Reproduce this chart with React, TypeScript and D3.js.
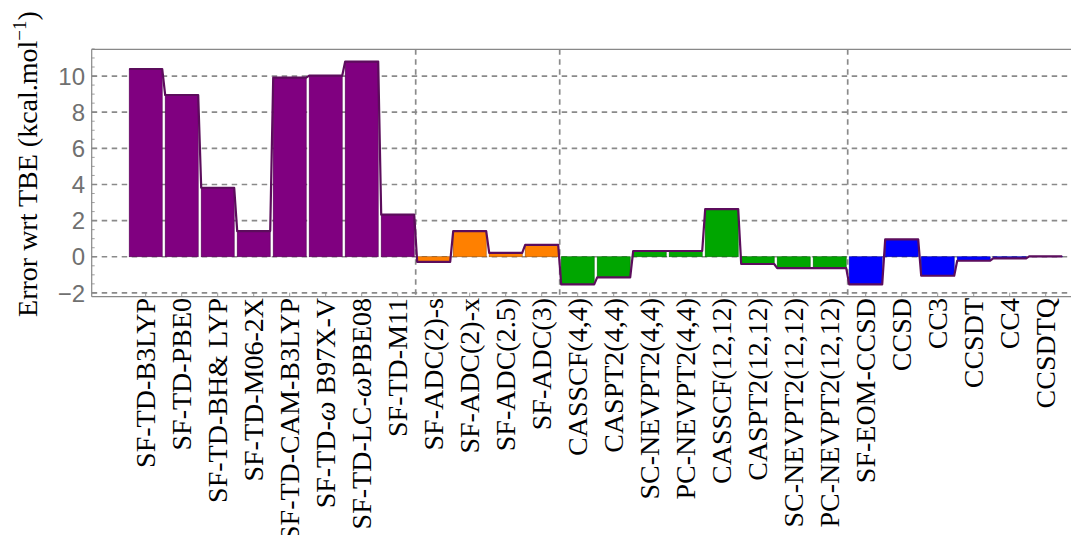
import React from "react";
import * as d3 from "d3";

const categories = [
  "SF-TD-B3LYP", "SF-TD-PBE0", "SF-TD-BH& LYP", "SF-TD-M06-2X", "SF-TD-CAM-B3LYP",
  "SF-TD-\u03c9 B97X-V", "SF-TD-LC-\u03c9PBE08", "SF-TD-M11",
  "SF-ADC(2)-s", "SF-ADC(2)-x", "SF-ADC(2.5)", "SF-ADC(3)",
  "CASSCF(4,4)", "CASPT2(4,4)", "SC-NEVPT2(4,4)", "PC-NEVPT2(4,4)",
  "CASSCF(12,12)", "CASPT2(12,12)", "SC-NEVPT2(12,12)", "PC-NEVPT2(12,12)",
  "SF-EOM-CCSD", "CCSD", "CC3", "CCSDT", "CC4", "CCSDTQ",
];
const values = [
  10.39, 8.95, 3.82, 1.42, 9.91, 10.02, 10.8, 2.33,
  -0.28, 1.42, 0.22, 0.66,
  -1.53, -1.14, 0.32, 0.32, 2.64, -0.4, -0.63, -0.63,
  -1.53, 0.96, -1.05, -0.22, -0.09, 0.02,
];
const groups = [
  "TD", "TD", "TD", "TD", "TD", "TD", "TD", "TD",
  "ADC", "ADC", "ADC", "ADC",
  "CAS", "CAS", "CAS", "CAS", "CAS", "CAS", "CAS", "CAS",
  "CC", "CC", "CC", "CC", "CC", "CC",
];
const groupNames = ["TD", "ADC", "CAS", "CC"];
const groupColors = ["#800080", "#ff8000", "#00a600", "#0000ff"];
const yTicks = [-2, 0, 2, 4, 6, 8, 10];
const yLabel = "Error wrt TBE (kcal.mol";

const W = 1071;
const H = 535;
const left = 91.7;
const top = 49.3;
const bottom = 296.7;
const right = 1100;

const SERIF = "'Liberation Serif', 'DejaVu Serif', serif";
const SANS = "'Liberation Sans', Arial, sans-serif";

function renderLabel(s: string) {
  const parts = s.split("\u03c9");
  if (parts.length === 1) return s;
  return (
    <>
      {parts[0]}
      <tspan fontStyle="italic">{"\u03c9"}</tspan>
      {parts[1]}
    </>
  );
}

export default function App() {
  const x = d3
    .scaleBand<string>()
    .domain(categories)
    .range([127.7, 127.7 + 36 * categories.length])
    .paddingInner(3 / 36)
    .paddingOuter(1.5 / 36);
  const y = d3.scaleLinear().domain([-2.21, 11.48]).range([bottom, top]);
  const color = d3.scaleOrdinal<string, string>().domain(groupNames).range(groupColors);
  const bw = x.bandwidth();
  const step = x.step();

  const pts: [number, number][] = [];
  categories.forEach((c, i) => {
    pts.push([x(c)!, y(values[i])]);
    pts.push([x(c)! + bw, y(values[i])]);
  });
  const line = d3.line<[number, number]>().x((d) => d[0]).y((d) => d[1]);

  const dividers: number[] = [];
  for (let i = 1; i < categories.length; i++) {
    if (groups[i] !== groups[i - 1]) dividers.push(x(categories[i])! + bw / 2 - step / 2);
  }

  const minorTicks = d3.range(-2, 11.51, 0.5);

  return (
    <div style={{ position: "fixed", left: 0, top: 0 }}>
      <svg width={W} height={H} style={{ display: "block", background: "#fff" }}>
        {/* grid */}
        {yTicks.map((t) => (
          <line key={"g" + t} x1={left} x2={right} y1={y(t)} y2={y(t)}
            stroke="#8a8a8a" strokeWidth={1.7} strokeDasharray="5.5,4.5" />
        ))}
        {dividers.map((d, i) => (
          <line key={"d" + i} x1={d} x2={d} y1={top} y2={bottom}
            stroke="#8a8a8a" strokeWidth={1.7} strokeDasharray="5.5,4.5" />
        ))}
        {/* bars */}
        {categories.map((c, i) => {
          const fill = color(groups[i]);
          return (
            <rect key={"b" + i} x={x(c)} width={bw}
              y={Math.min(y(values[i]), y(0))}
              height={Math.abs(y(values[i]) - y(0))}
              fill={fill} stroke={d3.color(fill)!.darker(1.2).formatHex()} strokeWidth={0.6} />
          );
        })}
        <path d={line(pts)!} fill="none" stroke="#5c0d5c" strokeWidth={2.2} strokeLinejoin="round" />
        {/* frame */}
        <line x1={left} x2={left} y1={top} y2={bottom} stroke="#888" strokeWidth={1.2} />
        <line x1={left} x2={right} y1={top} y2={top} stroke="#888" strokeWidth={1.2} />
        <line x1={left} x2={right} y1={bottom} y2={bottom} stroke="#888" strokeWidth={1.2} />
        {minorTicks.map((t) => {
          const major = Math.abs(t % 2) < 1e-9;
          return (
            <line key={"yt" + t} x1={left} x2={left + (major ? 5 : 3)} y1={y(t)} y2={y(t)}
              stroke="#888" strokeWidth={0.8} />
          );
        })}
        {categories.map((c, i) => (
          <line key={"xt" + i} x1={x(c)! + bw / 2} x2={x(c)! + bw / 2} y1={bottom} y2={bottom - 4}
            stroke="#888" strokeWidth={0.8} />
        ))}
        {/* y tick labels */}
        {yTicks.map((t) => (
          <text key={"yl" + t} x={85} y={y(t)} dy="0.36em" textAnchor="end"
            fontFamily={SANS} fontSize={24} fill="#707070">
            {t < 0 ? "\u2212" + Math.abs(t) : String(t)}
          </text>
        ))}
        {/* x labels */}
        {categories.map((c, i) => {
          const cx = x(c)! + bw / 2 + 9.5;
          return (
            <text key={"xl" + i} transform={`translate(${cx},298) rotate(-90)`}
              textAnchor="end" fontFamily={SERIF} fontSize={28} fill="#000">
              {renderLabel(c)}
            </text>
          );
        })}
        {/* y axis label */}
        <text transform={`translate(37,164) rotate(-90)`} textAnchor="middle"
          fontFamily={SERIF} fontSize={28} fill="#000">
          {yLabel}
          <tspan dy={-11} fontSize={19}>{"\u22121"}</tspan>
          <tspan dy={11}>)</tspan>
        </text>
      </svg>
    </div>
  );
}
